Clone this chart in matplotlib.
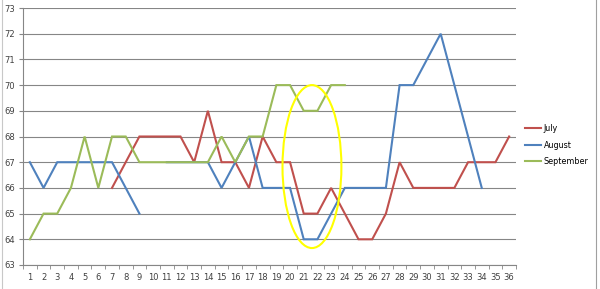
import numpy as np
import matplotlib.pyplot as plt
from matplotlib.patches import Ellipse
from matplotlib.lines import Line2D

nan = np.nan

days = list(range(1, 37))

july = [nan, nan, nan, nan, nan, nan, 66, 67, 68, 68, 68, 68, 67, 69, 67, 67, 66, 68,
        67, 67, 65, 65, 66, 65, 64, 64, 65, 67, 66, 66, 66, 66, 67, 67, 67, 68]
august = [67, 66, 67, 67, 67, 67, 67, 66, 65, nan, 67, 67, 67, 67, 66, 67, 68, 66,
          66, 66, 64, 64, 65, 66, 66, 66, 66, 70, 70, 71, 72, 70, 68, 66, nan, nan]
september = [64, 65, 65, 66, 68, 66, 68, 68, 67, 67, 67, 67, 67, 67, 68, 67, 68, 68,
             70, 70, 69, 69, 70, 70] + [nan] * 12

series = [("July", july, "#C0504D"),
          ("August", august, "#4F81BD"),
          ("September", september, "#9BBB59")]

fig = plt.figure(figsize=(6, 2.89), dpi=100)
ax = fig.add_axes([23 / 600, 1 - 265 / 289, (516 - 23) / 600, (265 - 8) / 289])

for name, vals, col in series:
    ax.plot(days, vals, color=col, lw=1.5, label=name, solid_joinstyle="miter")

# highlight ring
ax.add_patch(Ellipse((21.6, 66.83), 4.3, 6.34, fill=False, edgecolor="#FFFF00", lw=1.5, zorder=5))

ax.set_xlim(0.5, 36.5)
ax.set_ylim(63, 73)
ax.set_yticks(range(63, 74))
ax.set_xticks(days)
ax.set_xticks(np.arange(0.5, 37, 1), minor=True)
ax.tick_params(axis="x", which="major", length=0, labelsize=6, pad=6, colors="#404040")
ax.tick_params(axis="x", which="minor", length=3, color="#868686")
ax.tick_params(axis="y", length=3, pad=3, labelsize=6, colors="#404040", color="#868686")
ax.grid(axis="y", color="#868686", lw=0.8)
ax.set_axisbelow(True)
for s in ["top", "right"]:
    ax.spines[s].set_visible(False)
for s in ["left", "bottom"]:
    ax.spines[s].set_color("#868686")
    ax.spines[s].set_linewidth(0.8)

handles = [Line2D([], [], color=c, lw=1.5) for _, _, c in series]
fig.legend(handles, [n for n, _, _ in series], loc="center left",
           bbox_to_anchor=(518 / 600, 1 - 145 / 289), frameon=False, fontsize=5.8,
           handlelength=2.0, handletextpad=0.3, labelspacing=0.95)

# window frame lines
fig.add_artist(Line2D([596 / 600, 596 / 600], [0, 1], color="#A0A0A0", lw=0.8))
fig.add_artist(Line2D([2 / 600, 2 / 600], [0, 1], color="#C8C8C8", lw=0.8))

fig.savefig("out.png", dpi=100)
